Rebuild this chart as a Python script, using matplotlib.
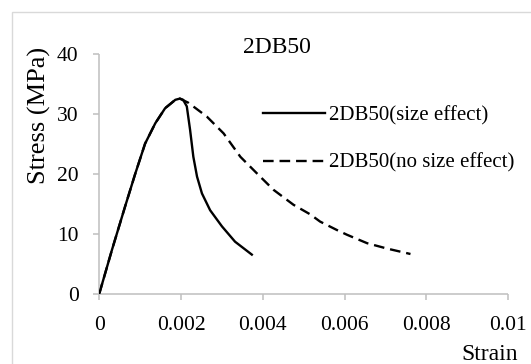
import matplotlib
matplotlib.use("Agg")
import matplotlib.pyplot as plt
from matplotlib.patches import Rectangle

plt.rcParams['font.family'] = ['Liberation Serif', 'DejaVu Serif']

# -------------------- Data --------------------
strain_size = [0, 0.31, 0.63, 0.88, 1.12, 1.37, 1.61, 1.86, 1.97, 2.05, 2.14,
               2.22, 2.30, 2.39, 2.51, 2.71, 3.00, 3.32, 3.73]
stress_size = [0, 7.3, 14.5, 20.0, 25.0, 28.4, 30.9, 32.3, 32.5, 32.3, 31.2,
               27.3, 22.8, 19.5, 16.7, 13.9, 11.2, 8.65, 6.5]

strain_nosize = [0, 0.31, 0.63, 0.88, 1.12, 1.37, 1.61, 1.86, 1.97, 2.18, 2.63,
                 3.04, 3.45, 3.86, 4.26, 4.75, 5.16, 5.40, 5.81, 6.06, 6.55,
                 7.04, 7.61]
stress_nosize = [0, 7.3, 14.5, 20.0, 25.0, 28.4, 30.9, 32.3, 32.5, 31.8, 29.5,
                 26.7, 22.8, 20.0, 17.3, 14.8, 13.2, 12.0, 10.6, 9.8, 8.4,
                 7.5, 6.6]

labels = ['2DB50(size effect)', '2DB50(no size effect)']
xticks = [0, 0.002, 0.004, 0.006, 0.008, 0.01]
xticklabels = ['0', '0.002', '0.004', '0.006', '0.008', '0.01']
yticks = [0, 10, 20, 30, 40]

# -------------------- Figure --------------------
W, H = 531, 364
fig = plt.figure(figsize=(W / 100, H / 100), dpi=100)
ax = fig.add_axes([99.3 / W, (H - 293.6) / H, (508.2 - 99.3) / W, 240 / H])

ax.plot([s * 1e-3 for s in strain_nosize], stress_nosize, color='black',
        lw=1.7, linestyle=(0, (4.5, 2.5)), label=labels[1])
ax.plot([s * 1e-3 for s in strain_size], stress_size, color='black',
        lw=1.7, label=labels[0], zorder=3)

ax.set_xlim(0, 0.01)
ax.set_ylim(0, 40)
ax.set_xticks(xticks)
ax.set_xticklabels(xticklabels)
ax.set_yticks(yticks)

grey = '#bfbfbf'
for side in ['top', 'right']:
    ax.spines[side].set_visible(False)
for side in ['left', 'bottom']:
    ax.spines[side].set_color(grey)
    ax.spines[side].set_linewidth(1.1)
    ax.spines[side].set_capstyle('butt')
ax.tick_params(axis='both', direction='out', length=4.3, width=1.1,
               color=grey, labelsize=15.5, labelcolor='black')
ax.tick_params(axis='x', pad=12)
ax.tick_params(axis='y', pad=10.5)

# legend: solid first, dashed second
h, l = ax.get_legend_handles_labels()
ax.legend([h[1], h[0]], [l[1], l[0]], loc='upper left',
          bbox_to_anchor=(262.7 / W, (H - 105.8) / H),
          bbox_transform=fig.transFigure, frameon=False, fontsize=15,
          borderpad=0, borderaxespad=0, handlelength=3.0,
          handletextpad=0.16, labelspacing=1.34)

fig.text(276.7 / W, (H - 53.3) / H, '2DB50', fontsize=17,
         ha='center', va='baseline')
fig.text(39 / W, (H - 115.5) / H, 'Stress (MPa)', fontsize=19,
         rotation=90, ha='center', va='center')
fig.text(489.5 / W, (H - 359.5) / H, 'Strain', fontsize=17,
         ha='center', va='baseline')

# outer light frame of the chart area
fig.add_artist(Rectangle((11.7 / W, -0.2), 1.2, 0.2 + (H - 11.7) / H,
                         transform=fig.transFigure, fill=False,
                         edgecolor='#d9d9d9', lw=1.0))

fig.savefig('out.png', dpi=100)
